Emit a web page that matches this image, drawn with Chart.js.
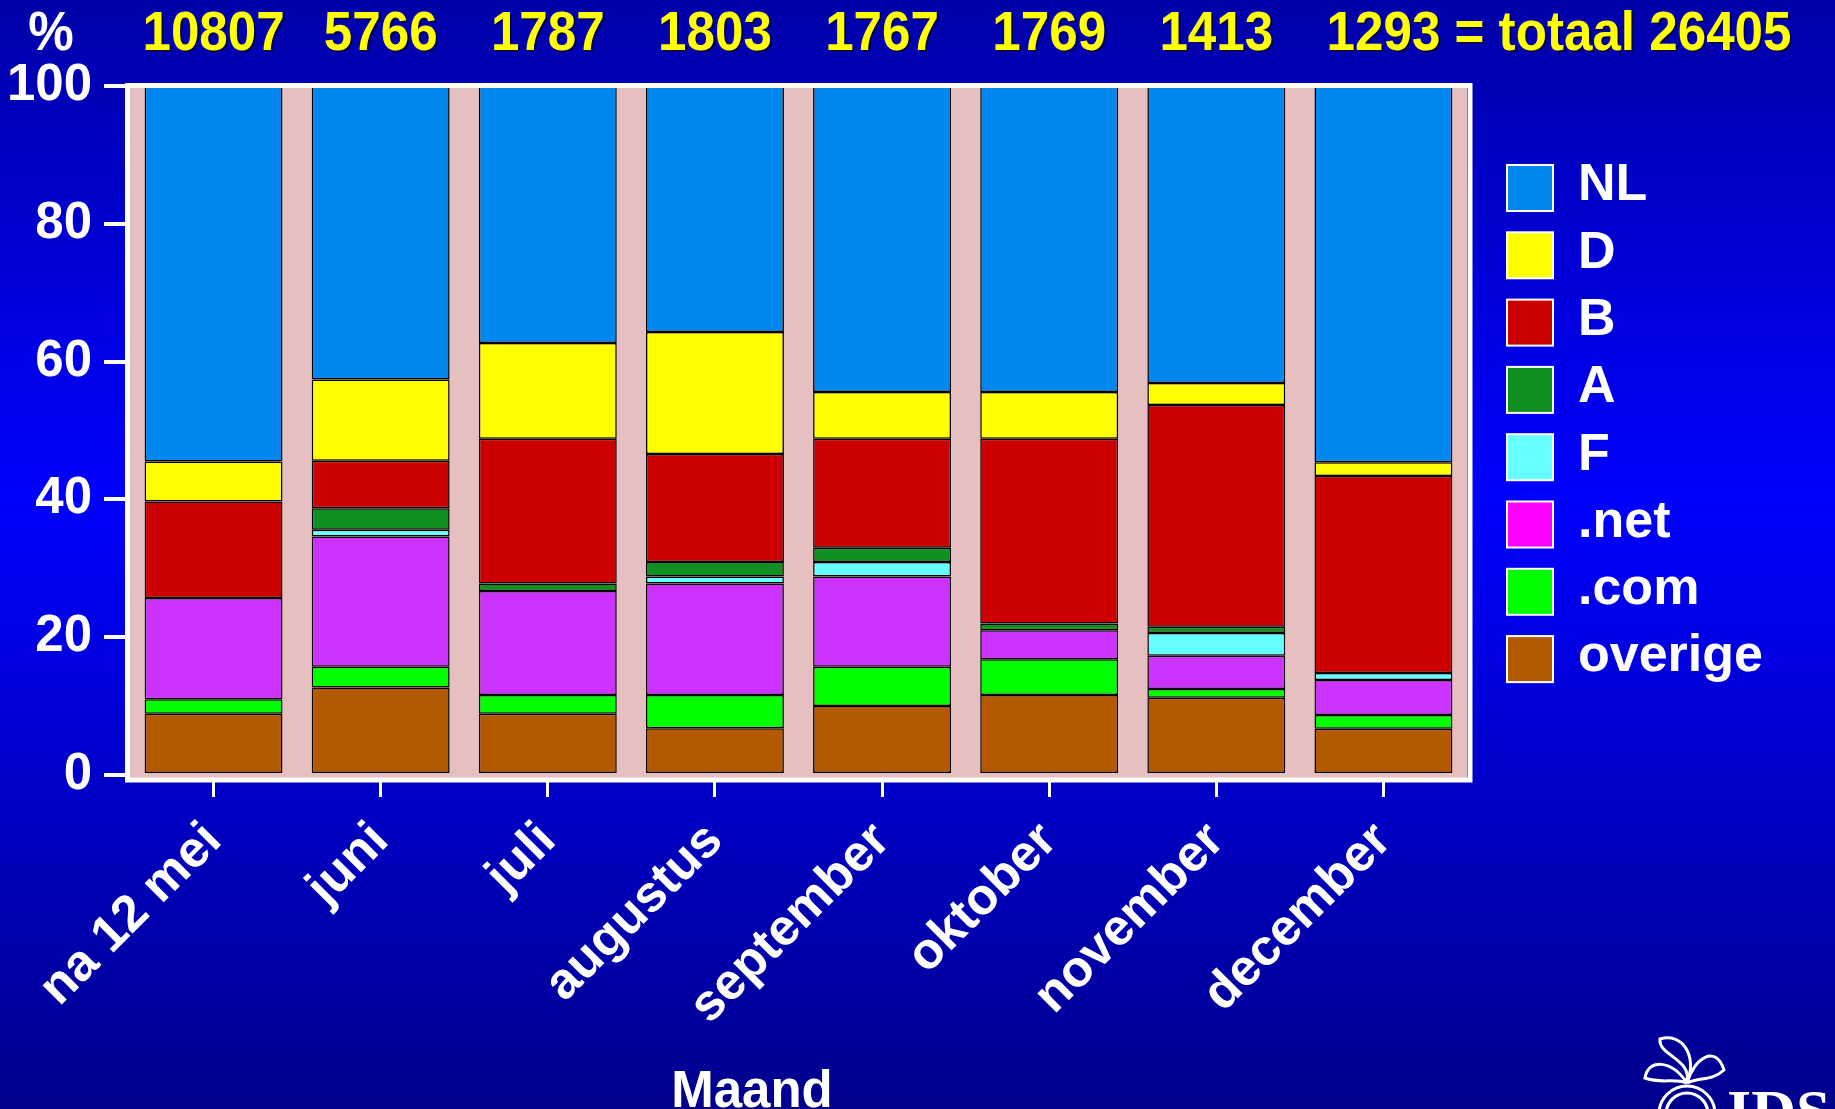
<!DOCTYPE html>
<html>
<head>
<meta charset="utf-8">
<script src="https://cdn.jsdelivr.net/npm/chart.js@4.4.1/dist/chart.umd.min.js"></script>
<style>
html, body { margin: 0; padding: 0; }
body {
    width: 1835px; height: 1109px; overflow: hidden;
    background: linear-gradient(to bottom, #0000a8 0%, #0000ff 45%, #00008c 100%);
}
#wrap { position: relative; width: 1835px; height: 1109px; }
</style>
</head>
<body>
<div id="wrap"><canvas id="chart"></canvas></div>
<script>
// maanden en aantallen per maand
const maanden = ['na 12 mei', 'juni', 'juli', 'augustus', 'september', 'oktober', 'november', 'december'];
const aantallen = [10807, 5766, 1787, 1803, 1767, 1769, 1413, 1293];
const totaal = 26405;
const yTicks = [0, 20, 40, 60, 80, 100];

// percentages, van onder naar boven gestapeld
const overige = [8.9, 12.7, 8.9, 6.8, 10.0, 11.6, 11.2, 6.7];
const com     = [2.1, 3.0, 2.7, 4.8, 5.7, 5.2, 1.3, 2.0];
const net     = [14.7, 18.9, 15.1, 16.2, 13.1, 4.2, 4.8, 5.1];
const F       = [0, 1.0, 0, 1.0, 2.1, 0, 3.3, 1.0];
const A       = [0, 3.1, 1.1, 2.1, 2.1, 1.0, 0.9, 0];
const B       = [14.0, 6.9, 21.0, 15.7, 15.8, 26.8, 32.2, 28.6];
const D       = [5.8, 11.8, 13.9, 17.7, 6.8, 6.8, 3.2, 2.0];
const NL      = [54.5, 42.6, 37.3, 35.7, 44.4, 44.4, 43.1, 54.6];

const FONT = '"Liberation Sans", Arial, Helvetica, sans-serif';

function serie(label, data, color, legendColor) {
    return {
        label: label,
        data: data,
        backgroundColor: color,
        legendColor: legendColor || color,
        borderColor: '#000',
        borderWidth: 1.5,
        borderSkipped: false,
        barPercentage: 0.825,
        categoryPercentage: 1.0
    };
}

// smalle tekst (horizontaal iets samengedrukt), zoals de koptekst
function narrowText(ctx, text, x, y, align) {
    ctx.save();
    ctx.translate(x, y);
    ctx.scale(0.93, 1);
    ctx.textAlign = align;
    ctx.fillText(text, 0, 0);
    ctx.restore();
}

const decor = {
    id: 'decor',
    beforeDatasetsDraw(chart) {
        const { ctx, chartArea: a } = chart;
        ctx.save();
        ctx.fillStyle = '#e6bfc0';
        ctx.fillRect(a.left, a.top, a.right - a.left, a.bottom - a.top + 3);
        ctx.restore();
    },
    afterDatasetsDraw(chart) {
        const { ctx, chartArea: a } = chart;
        ctx.save();
        ctx.strokeStyle = '#ffffff';
        ctx.lineWidth = 5;
        ctx.strokeRect(a.left - 2.5, a.top - 0.5, a.right - a.left + 5.5, a.bottom - a.top + 5.5);
        ctx.restore();
    },
    afterDraw(chart) {
        const ctx = chart.ctx;
        const x = chart.scales.x;
        ctx.save();

        // aantallen boven de staven
        ctx.font = 'bold 55px ' + FONT;
        ctx.textBaseline = 'middle';
        ctx.fillStyle = '#ffffff';
        narrowText(ctx, '%', 51, 35, 'center');
        ctx.shadowColor = 'rgba(0,0,40,0.6)';
        ctx.shadowOffsetX = 2;
        ctx.shadowOffsetY = 2;
        ctx.fillStyle = '#ffff00';
        aantallen.forEach((n, i) => {
            const px = x.getPixelForValue(i);
            narrowText(ctx, String(n), px, 35, 'center');
            if (i === aantallen.length - 1) {
                const w = ctx.measureText(String(n)).width * 0.93;
                narrowText(ctx, ' = totaal ' + totaal, px + w / 2, 35, 'left');
            }
        });
        ctx.shadowColor = 'transparent';

        // as-titel
        ctx.font = 'bold 51px ' + FONT;
        ctx.fillStyle = '#ffffff';
        ctx.textAlign = 'center';
        ctx.fillText('Maand', 752, 1093);

        // legenda
        const items = chart.data.datasets.slice().reverse();
        ctx.font = 'bold 52px ' + FONT;
        ctx.textAlign = 'left';
        items.forEach((d, i) => {
            const cy = 188 + i * 67.3;
            ctx.fillStyle = d.legendColor;
            ctx.fillRect(1507, cy - 23, 46, 46);
            ctx.strokeStyle = '#ffffff';
            ctx.lineWidth = 2;
            ctx.strokeRect(1507, cy - 23, 46, 46);
            ctx.fillStyle = '#ffffff';
            ctx.fillText(d.label, 1578, cy - 2);
        });

        // logo rechtsonder
        ctx.strokeStyle = '#ffffff';
        ctx.lineWidth = 3;
        ctx.beginPath();
        ctx.moveTo(1687, 1083);
        ctx.bezierCurveTo(1672, 1060, 1648, 1058, 1645, 1078);
        ctx.bezierCurveTo(1660, 1084, 1675, 1078, 1687, 1083);
        ctx.moveTo(1687, 1083);
        ctx.bezierCurveTo(1692, 1058, 1658, 1056, 1660, 1039);
        ctx.bezierCurveTo(1682, 1032, 1698, 1056, 1687, 1083);
        ctx.moveTo(1687, 1083);
        ctx.bezierCurveTo(1694, 1058, 1716, 1044, 1724, 1070);
        ctx.bezierCurveTo(1712, 1081, 1700, 1077, 1687, 1083);
        ctx.stroke();
        ctx.beginPath();
        ctx.arc(1687, 1114, 28, Math.PI, 0);
        ctx.stroke();
        ctx.beginPath();
        ctx.arc(1687, 1114, 21, Math.PI, 0);
        ctx.stroke();
        ctx.fillStyle = '#ffffff';
        ctx.font = 'bold 62px "Liberation Serif", "Times New Roman", serif';
        ctx.textBaseline = 'alphabetic';
        ctx.fillText('IDS', 1727, 1132);

        ctx.restore();
    }
};

new Chart(document.getElementById('chart'), {
    type: 'bar',
    data: {
        labels: maanden,
        datasets: [
            serie('overige', overige, '#b35900'),
            serie('.com', com, '#00ff00'),
            serie('.net', net, '#cc33ff', '#ff00ff'),
            serie('F', F, '#66ffff'),
            serie('A', A, '#109020'),
            serie('B', B, '#cc0000'),
            serie('D', D, '#ffff00'),
            serie('NL', NL, '#0088ee')
        ]
    },
    options: {
        responsive: true,
        maintainAspectRatio: false,
        animation: false,
        layout: { padding: { left: 0, top: 86, right: 368, bottom: 0 } },
        plugins: {
            legend: { display: false },
            tooltip: { enabled: false }
        },
        scales: {
            x: {
                stacked: true,
                afterFit(scale) { scale.height = 334; },
                grid: {
                    offset: false,
                    drawOnChartArea: false,
                    drawTicks: true,
                    tickLength: 22,
                    color: '#ffffff',
                    lineWidth: 3
                },
                border: { display: false },
                ticks: {
                    color: '#ffffff',
                    font: { family: FONT, size: 51, weight: 'bold' },
                    minRotation: 45,
                    maxRotation: 45,
                    padding: 14,
                    autoSkip: false
                }
            },
            y: {
                stacked: true,
                min: 0,
                max: 100,
                afterFit(scale) { scale.width = 130; },
                afterBuildTicks(scale) { scale.ticks = yTicks.map(v => ({ value: v })); },
                grid: {
                    drawOnChartArea: false,
                    drawTicks: true,
                    tickLength: 26,
                    color: '#ffffff',
                    lineWidth: 4
                },
                border: { display: false },
                ticks: {
                    color: '#ffffff',
                    font: { family: FONT, size: 51, weight: 'bold' },
                    padding: 12
                }
            }
        }
    },
    plugins: [decor]
});
</script>
</body>
</html>
